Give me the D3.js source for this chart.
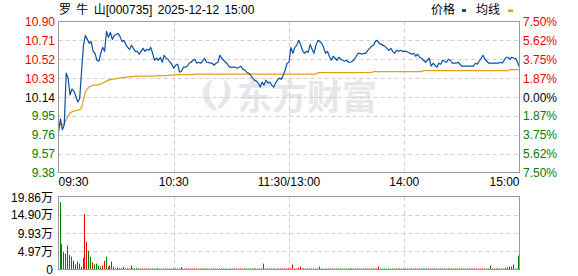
<!DOCTYPE html>
<html>
<head>
<meta charset="utf-8">
<script src="https://cdn.jsdelivr.net/npm/d3@7"></script>
<style>
  body { margin: 0; background: #fff; }
  svg text { font-family: "Liberation Sans", Arial, "Noto Sans CJK SC", sans-serif; font-size: 12px; }
</style>
</head>
<body>
<div id="chart"></div>
<script>
// minute data, 09:30 .. 11:30 / 13:01 .. 15:00 (241 points)
var prevClose = 10.14;

var prices = [
  9.78, 9.92, 9.81, 9.86, 10.38, 10.33, 10.16, 10.22, 10.20, 10.15,
  10.09, 10.12, 10.40, 10.66, 10.76, 10.72, 10.68, 10.70, 10.60, 10.58,
  10.51, 10.50, 10.58, 10.64, 10.60, 10.80, 10.74, 10.79, 10.72, 10.76,
  10.77, 10.78, 10.75, 10.70, 10.71, 10.67, 10.64, 10.62, 10.66, 10.63,
  10.60, 10.60, 10.57, 10.60, 10.63, 10.60, 10.62, 10.61, 10.64, 10.58,
  10.51, 10.53, 10.51, 10.54, 10.49, 10.56, 10.53, 10.52, 10.49, 10.47,
  10.43, 10.46, 10.47, 10.39, 10.40, 10.44, 10.44, 10.45, 10.48, 10.49,
  10.51, 10.52, 10.48, 10.49, 10.48, 10.50, 10.53, 10.49, 10.49, 10.48,
  10.48, 10.46, 10.48, 10.49, 10.56, 10.53, 10.51, 10.49, 10.47, 10.44,
  10.44, 10.44, 10.44, 10.43, 10.44, 10.45, 10.42, 10.41, 10.39, 10.38,
  10.36, 10.33, 10.31, 10.30, 10.28, 10.24, 10.29, 10.26, 10.31, 10.28,
  10.29, 10.26, 10.24, 10.28, 10.31, 10.33, 10.32, 10.36, 10.41, 10.48,
  10.49, 10.64, 10.58, 10.64, 10.66, 10.71, 10.67, 10.61, 10.58, 10.60,
  10.59, 10.67, 10.62, 10.58, 10.66, 10.71, 10.70, 10.68, 10.64, 10.58,
  10.60, 10.55, 10.51, 10.55, 10.53, 10.51, 10.54, 10.52, 10.51, 10.50,
  10.51, 10.49, 10.49, 10.50, 10.52, 10.55, 10.58, 10.58, 10.57, 10.58,
  10.58, 10.61, 10.63, 10.65, 10.66, 10.70, 10.71, 10.68, 10.67, 10.66,
  10.65, 10.63, 10.61, 10.63, 10.60, 10.58, 10.61, 10.60, 10.61, 10.60,
  10.60, 10.60, 10.59, 10.58, 10.57, 10.58, 10.55, 10.57, 10.54, 10.53,
  10.51, 10.49, 10.51, 10.53, 10.45, 10.48, 10.46, 10.44, 10.48, 10.47,
  10.51, 10.50, 10.49, 10.52, 10.51, 10.48, 10.48, 10.48, 10.49, 10.47,
  10.45, 10.45, 10.45, 10.45, 10.45, 10.45, 10.45, 10.48, 10.47, 10.50,
  10.53, 10.56, 10.52, 10.50, 10.48, 10.48, 10.48, 10.48, 10.48, 10.48,
  10.49, 10.48, 10.51, 10.54, 10.54, 10.52, 10.54, 10.53, 10.53, 10.49,
  10.44
];

var avgPrices = [
  9.85, 9.86, 9.86, 9.87, 9.91, 9.95, 9.98, 9.99, 10.00, 10.00,
  10.01, 10.01, 10.03, 10.11, 10.19, 10.22, 10.24, 10.25, 10.26, 10.26,
  10.26, 10.265, 10.27, 10.28, 10.29, 10.30, 10.31, 10.315, 10.32, 10.32,
  10.325, 10.33, 10.33, 10.335, 10.335, 10.34, 10.34, 10.345, 10.345, 10.345,
  10.35, 10.35, 10.35, 10.35, 10.35, 10.35, 10.35, 10.35, 10.35, 10.35,
  10.35, 10.355, 10.355, 10.355, 10.355, 10.355, 10.355, 10.355, 10.36, 10.36,
  10.36, 10.365, 10.365, 10.365, 10.365, 10.365, 10.365, 10.365, 10.365, 10.365,
  10.365, 10.37, 10.37, 10.37, 10.37, 10.37, 10.37, 10.37, 10.37, 10.37,
  10.37, 10.37, 10.37, 10.37, 10.37, 10.37, 10.37, 10.37, 10.37, 10.37,
  10.37, 10.37, 10.37, 10.37, 10.37, 10.37, 10.37, 10.37, 10.37, 10.37,
  10.37, 10.37, 10.37, 10.37, 10.37, 10.37, 10.37, 10.37, 10.37, 10.37,
  10.37, 10.37, 10.37, 10.37, 10.37, 10.37, 10.37, 10.37, 10.37, 10.37,
  10.37, 10.37, 10.37, 10.37, 10.37, 10.37, 10.37, 10.37, 10.37, 10.37,
  10.37, 10.37, 10.37, 10.37, 10.37, 10.385, 10.385, 10.385, 10.385, 10.385,
  10.385, 10.385, 10.385, 10.385, 10.385, 10.385, 10.385, 10.385, 10.385, 10.385,
  10.385, 10.385, 10.385, 10.385, 10.385, 10.385, 10.385, 10.385, 10.385, 10.385,
  10.385, 10.385, 10.385, 10.385, 10.395, 10.395, 10.395, 10.395, 10.395, 10.395,
  10.395, 10.395, 10.395, 10.395, 10.395, 10.395, 10.395, 10.395, 10.395, 10.395,
  10.395, 10.395, 10.395, 10.395, 10.395, 10.395, 10.395, 10.395, 10.395, 10.395,
  10.405, 10.405, 10.405, 10.405, 10.405, 10.405, 10.405, 10.405, 10.405, 10.405,
  10.405, 10.405, 10.405, 10.405, 10.405, 10.405, 10.405, 10.405, 10.405, 10.405,
  10.405, 10.405, 10.405, 10.405, 10.405, 10.405, 10.405, 10.405, 10.405, 10.405,
  10.405, 10.405, 10.405, 10.405, 10.405, 10.405, 10.405, 10.405, 10.405, 10.405,
  10.405, 10.405, 10.405, 10.405, 10.405, 10.415, 10.415, 10.415, 10.415, 10.415,
  10.415
];

// volume in 万 shares
var volumes = [
  18.3, 7.0, 4.85, 4.3, 6.5, 4.0, 3.5, 2.4, 1.35, 2.15,
  1.6, 0.8, 3.2, 15.1, 7.5, 5.1, 3.5, 1.9, 1.35, 1.6,
  1.08, 0.8, 1.08, 2.4, 3.5, 0.8, 1.08, 2.15, 0.8, 0.36,
  0.54, 0.36, 0.36, 0.7, 0.3, 0.3, 0.3, 1.08, 0.3, 0.3,
  0.45, 0.25, 0.2, 0.3, 0.2, 0.25, 0.2, 0.2, 0.3, 0.25,
  0.2, 0.3, 0.2, 0.25, 0.2, 0.2, 0.25, 0.2, 0.2, 0.3,
  0.25, 0.2, 0.25, 0.7, 0.25, 0.2, 0.2, 0.2, 0.25, 0.2,
  0.2, 0.2, 0.25, 0.2, 0.2, 0.2, 0.25, 0.2, 0.2, 0.2,
  0.2, 0.2, 0.2, 0.25, 0.3, 0.2, 0.2, 0.2, 0.2, 0.2,
  0.2, 0.25, 0.2, 0.2, 0.2, 0.2, 0.25, 0.2, 0.2, 0.25,
  0.2, 0.25, 0.2, 0.25, 0.2, 0.3, 1.6, 0.25, 0.2, 0.2,
  0.2, 0.2, 0.25, 0.2, 0.2, 0.2, 0.2, 0.25, 0.3, 0.3,
  0.2, 1.35, 0.3, 0.2, 0.45, 0.8, 0.25, 0.2, 0.2, 0.2,
  0.2, 0.2, 0.2, 0.2, 0.2, 0.8, 0.2, 0.2, 0.2, 0.2,
  0.2, 0.2, 0.25, 0.2, 0.2, 0.2, 0.2, 0.2, 0.2, 0.2,
  0.2, 0.2, 0.2, 0.2, 0.2, 0.2, 0.25, 0.2, 0.2, 0.2,
  0.2, 0.2, 0.2, 0.2, 0.2, 0.2, 0.8, 0.2, 0.2, 0.2,
  0.2, 0.2, 0.2, 0.2, 0.2, 0.2, 0.2, 0.2, 0.2, 0.2,
  0.2, 0.2, 0.2, 0.2, 0.2, 0.2, 0.2, 0.2, 0.2, 0.2,
  0.2, 0.2, 0.2, 0.2, 0.25, 0.2, 0.2, 0.2, 0.2, 0.2,
  0.2, 0.2, 0.2, 0.2, 0.2, 0.2, 0.2, 0.2, 0.2, 0.2,
  0.2, 0.2, 0.2, 0.2, 0.2, 0.2, 0.2, 0.2, 0.2, 0.2,
  0.2, 0.25, 0.2, 0.2, 1.08, 0.2, 0.2, 0.2, 0.2, 0.2,
  0.2, 0.2, 0.45, 0.6, 0.8, 0.8, 1.35, 0.2, 0.2, 0.2,
  3.8
];

var priceTicks = [10.90, 10.71, 10.52, 10.33, 10.14, 9.95, 9.76, 9.57, 9.38];
var pctLabels = ["7.50%", "5.62%", "3.75%", "1.87%", "0.00%", "1.87%", "3.75%", "5.62%", "7.50%"];
var volTicks = [0, 4.97, 9.93, 14.90, 19.86];
var timeTickIdx = [0, 60, 120, 180, 240];
var timeLabels = ["09:30", "10:30", "11:30/13:00", "14:00", "15:00"];

var W = 578, H = 276;
var left = 58.5, right = 519.5;
var mainTop = 21.5, mainBottom = 172.5;
var volTop = 196.5, volBottom = 269.5;

var red = "#f00000", green = "#008000", grid = "#d0d0d0";

var svg = d3.select("#chart").append("svg")
    .attr("width", W)
    .attr("height", H);

var x = d3.scaleLinear().domain([0, 240]).range([left, right]);
var y = d3.scaleLinear().domain([9.38, 10.90]).range([mainBottom, mainTop]);
var yv = d3.scaleLinear().domain([0, 19.86]).range([volBottom, volTop]);

// watermark
var wm = svg.append("g").attr("fill", "#e6e6eb");
wm.append("path")
    .attr("d", "M214 111 C199 101 199 86 213 79 C207 90 208 100 217 109 Z M220 109 C233 99 234 86 223 79 C227 90 225 100 217 107 Z");
wm.append("text")
    .attr("x", 237).attr("y", 110)
    .style("font-family", "'Noto Sans CJK SC'")
    .style("font-size", "35px")
    .style("font-weight", "bold")
    .text("东方财富");

// grids
function hGrid(vals, scale) {
  svg.append("g").selectAll("line")
      .data(vals).enter().append("line")
      .attr("x1", left).attr("x2", right)
      .attr("y1", d => Math.round(scale(d)) + 0.5)
      .attr("y2", d => Math.round(scale(d)) + 0.5)
      .attr("stroke", grid)
      .attr("stroke-dasharray", "4,3");
}
hGrid(priceTicks.slice(1, -1), y);
hGrid(volTicks.slice(1, -1), yv);

[[mainTop, mainBottom], [volTop, volBottom]].forEach(function (r) {
  svg.append("g").selectAll("line")
      .data(timeTickIdx.slice(1, -1)).enter().append("line")
      .attr("x1", d => Math.round(x(d)) + 0.5)
      .attr("x2", d => Math.round(x(d)) + 0.5)
      .attr("y1", r[0]).attr("y2", r[1])
      .attr("stroke", grid)
      .attr("stroke-dasharray", "4,3");
});

// average line, then price line
svg.append("path")
    .datum(avgPrices)
    .attr("fill", "none")
    .attr("stroke", "#e0a11b")
    .attr("stroke-width", 1.2)
    .attr("d", d3.line().x((d, i) => x(i)).y(d => y(d)));

svg.append("path")
    .datum(prices)
    .attr("fill", "none")
    .attr("stroke", "#0a4fa6")
    .attr("stroke-width", 1.2)
    .attr("stroke-linejoin", "round")
    .attr("d", d3.line().x((d, i) => x(i)).y(d => y(d)));

// volume bars
svg.append("g").selectAll("rect")
    .data(volumes).enter().append("rect")
    .attr("x", (d, i) => Math.min(Math.round(x(i) + 1), 518))
    .attr("width", 1)
    .attr("y", d => Math.min(yv(d), volBottom - 1))
    .attr("height", d => Math.max(1, volBottom - yv(d)))
    .attr("fill", (d, i) => prices[i] >= (i ? prices[i - 1] : prevClose) ? red : green);

// frames
[[mainTop, mainBottom], [volTop, volBottom]].forEach(function (r) {
  svg.append("rect")
      .attr("x", left).attr("y", r[0])
      .attr("width", right - left).attr("height", r[1] - r[0])
      .attr("fill", "none")
      .attr("stroke", "#999");
});

// axes labels
function tickColor(v) {
  return Math.abs(v - prevClose) < 0.001 ? "#000" : (v > prevClose ? red : green);
}
svg.append("g").selectAll("text")
    .data(priceTicks).enter().append("text")
    .attr("x", 55).attr("y", d => y(d) + 4.5)
    .attr("text-anchor", "end")
    .attr("fill", tickColor)
    .text(d => d.toFixed(2));

svg.append("g").selectAll("text")
    .data(priceTicks).enter().append("text")
    .attr("x", 523).attr("y", d => y(d) + 4.5)
    .attr("fill", tickColor)
    .text((d, i) => pctLabels[i]);

svg.append("g").selectAll("text")
    .data(volTicks).enter().append("text")
    .attr("x", 53)
    .attr("y", d => Math.max(yv(d) + 4.5, 202))
    .attr("text-anchor", "end")
    .attr("fill", "#000")
    .text(d => d === 0 ? "0" : d.toFixed(2) + "万");

svg.append("g").selectAll("text")
    .data(timeTickIdx).enter().append("text")
    .attr("x", d => x(d))
    .attr("y", 186)
    .attr("text-anchor", (d, i) => i === 0 ? "start" : (i === timeTickIdx.length - 1 ? "end" : "middle"))
    .attr("fill", "#000")
    .text((d, i) => timeLabels[i]);

// title and legend
svg.append("text")
    .attr("x", 59).attr("y", 14)
    .style("white-space", "pre")
    .style("word-spacing", "2px")
    .text("罗 牛 山[000735] 2025-12-12 15:00");

svg.append("text").attr("x", 431).attr("y", 14).text("价格");
svg.append("rect").attr("x", 462).attr("y", 9).attr("width", 4).attr("height", 3).attr("fill", "#0a4fa6");
svg.append("text").attr("x", 476).attr("y", 14).text("均线");
svg.append("rect").attr("x", 508).attr("y", 9.5).attr("width", 5).attr("height", 2.5).attr("fill", "#e0a11b");
</script>
</body>
</html>
